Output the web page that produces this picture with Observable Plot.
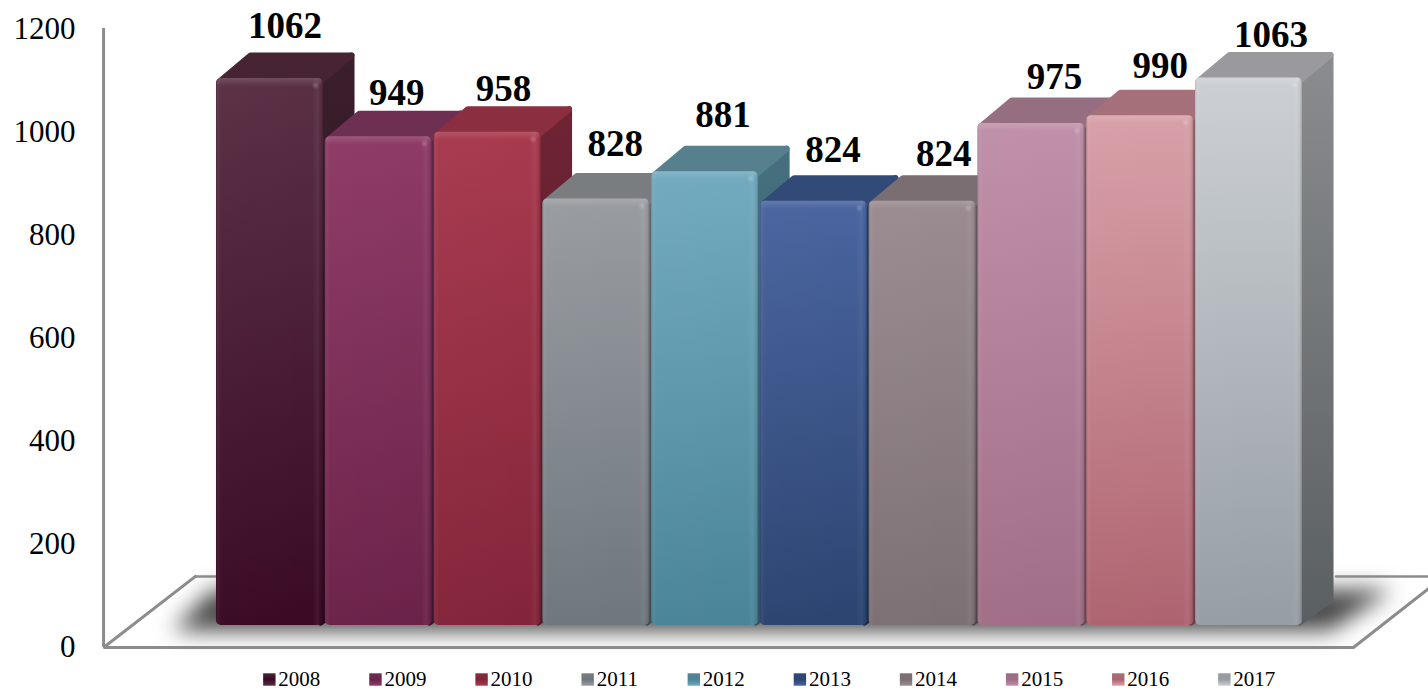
<!DOCTYPE html>
<html><head><meta charset="utf-8">
<script src="https://cdn.jsdelivr.net/npm/d3@7"></script>
<script src="https://cdn.jsdelivr.net/npm/@observablehq/plot@0.6"></script>
<style>html,body{margin:0;padding:0;background:#fff}svg{display:block;max-width:none}</style>
</head><body><div id="chart"></div>
<script>
const years = ["2008","2009","2010","2011","2012","2013","2014","2015","2016","2017"];
const values = [1062,949,958,828,881,824,824,975,990,1063];
const frontTop = ["#5a3045","#8e3b66","#a83a4e","#999ca1","#72aabf","#4a65a0","#9a8c90","#c090a8","#d8a0a8","#ccd0d4"];
const frontBottom = ["#3a0a24","#6b2249","#83243a","#6e777d","#4a8499","#2b4470","#7d7074","#a06e86","#ae6470","#969da4"];
const topFace = ["#472433","#6d2f52","#8a2e40","#7a7d80","#57808f","#324a78","#7a6e72","#966e82","#a5707a","#9a9a9e"];
const sideTop = ["#3b1f2c","#59264a","#6f2434","#6a6c6f","#47707f","#283c62","#655b5f","#7c5b6b","#885c65","#8a8c8e"];
const sideBottom = ["#24081a","#3d1430","#541a2a","#454b50","#2e5462","#1a2c4a","#4e4549","#62465a","#6e3c46","#5a5f62"];
const yTicks = [0,200,400,600,800,1000,1200];
const labelNudgeX = [-4,-1,-3,0,-1,0,2,4,1,3];
const labelNudgeY = [-4,4,5,-7,-9,-3,1,2,-1,5];

const pxX = 108.78, pxY = 0.515;            // pixels per data unit
const lift = -22;                           // bars stand back from the front edge of the floor
const depthX = 31 / pxX, depthY = 26 / pxY; // extrusion depth of each bar
const half = 0.492;
const cornerX = 3 / pxX, cornerY = 3 / pxY; // inset that the round stroke grows back
const floorL = -1.53, floorLB = -0.685, floorR = 9.96, floorRE = 10.65, floorB = 138;

const rows = years.map((year, i) => ({year, i, value: values[i]}));

function defs() {
  const d = d3.create("svg:defs");
  const grad = (id, stops, horizontal) => {
    const g = d.append("linearGradient").attr("id", id).attr("x1", 0).attr("y1", 0)
      .attr("x2", horizontal ? 1 : 0).attr("y2", horizontal ? 0 : 1);
    stops.forEach(([o, c, a]) => g.append("stop").attr("offset", o).attr("stop-color", c).attr("stop-opacity", a ?? 1));
  };
  rows.forEach(({i}) => {
    grad(`front${i}`, [[0, frontTop[i]], [1, frontBottom[i]]]);
    grad(`side${i}`, [[0, sideTop[i]], [1, sideBottom[i]]]);
    grad(`swatch${i}`, [[0, topFace[i]], [0.5, frontBottom[i]], [1, frontTop[i]]]);
  });
  grad("bevel", [[0, "#000", 0.14], [0.02, "#fff", 0.05], [0.05, "#fff", 0.01], [0.9, "#fff", 0], [0.95, "#fff", 0.05], [0.98, "#000", 0.03], [1, "#000", 0.22]], true);
  grad("topBevel", [[0, "#fff", 0.14], [1, "#fff", 0]]);
  return d.node();
}

const poly = (pts, o) => Plot.line(pts, {x: "x", y: "y", curve: "linear-closed", dy: lift, ...o});

const marks = [
  defs,
  // floor shadow
  poly([
    {x: -0.895, y: -10}, {x: 9.75, y: -10}, {x: 10.32, y: 70}, {x: -0.53, y: 70}
  ], {fill: "#484848", stroke: "none", imageFilter: "blur(11px)"}),
  // floor outline and axis wall
  Plot.ruleX([floorL], {y1: 0, y2: 1202, stroke: "#8c8c8c", strokeWidth: 3}),
  Plot.line([{x: floorLB, y: floorB}, {x: -0.46, y: floorB}], {x: "x", y: "y", stroke: "#8c8c8c", strokeWidth: 2.5}),
  Plot.line([{x: 9.8, y: floorB}, {x: floorRE, y: floorB}], {x: "x", y: "y", stroke: "#8c8c8c", strokeWidth: 2.5}),
  Plot.line([{x: floorLB, y: floorB}, {x: floorL, y: 0}, {x: floorR, y: 0}, {x: floorRE, y: 114}], {x: "x", y: "y", stroke: "#8c8c8c", strokeWidth: 3, strokeLinejoin: "miter"}),
  Plot.axisY({ticks: yTicks, tickSize: 0, tickPadding: 28, tickFormat: d => String(d), fontSize: 31, label: null, anchor: "left", color: "#000"}),
  ...rows.flatMap(({i, value}) => [
    poly([
      {x: i + half - cornerX, y: value}, {x: i + half + depthX - cornerX, y: value + depthY - cornerY},
      {x: i + half + depthX - cornerX, y: depthY}, {x: i + half - cornerX, y: cornerY}
    ], {fill: `url(#side${i})`, stroke: `url(#side${i})`, strokeWidth: 6, strokeLinejoin: "round"}),
    poly([
      {x: i - half + cornerX, y: value - cornerY}, {x: i - half + depthX + cornerX, y: value + depthY - cornerY},
      {x: i + half + depthX - cornerX, y: value + depthY - cornerY}, {x: i + half - cornerX, y: value - cornerY}
    ], {fill: topFace[i], stroke: topFace[i], strokeWidth: 6, strokeLinejoin: "round"}),
    Plot.rectY([{a: i - half, b: i + half, v: value}], {x1: "a", x2: "b", y: "v", dy: lift, rx: 5, fill: `url(#front${i})`}),
    Plot.rectY([{a: i - half, b: i + half, v: value}], {x1: "a", x2: "b", y: "v", dy: lift, rx: 5, fill: "url(#bevel)"}),
    Plot.rectY([{a: i - half + 0.01, b: i + half - 0.01, hi: value, lo: value - 16}], {x1: "a", x2: "b", y1: "lo", y2: "hi", dy: lift, rx: 4, fill: "url(#topBevel)"}),
    Plot.dot([{x: i + half - 8 / pxX, y: value - 7 / pxY}], {x: "x", y: "y", dy: lift, r: 2.5, fill: "#fff", fillOpacity: 0.2, stroke: "none", imageFilter: "blur(1px)"})
  ]),
  // value labels sit above every bar, on top of their neighbours
  ...rows.map(({i, value}) =>
    Plot.text([{x: i, y: value}], {x: "x", y: "y", text: () => String(value), dx: 19 + labelNudgeX[i], dy: lift - 48 + labelNudgeY[i], fontSize: 37, fontWeight: "bold", fill: "#000", lineAnchor: "middle"})
  ),
  // legend
  ...rows.flatMap(({i, year}) => [
    Plot.dot([{x: i * 0.9755 - 0.006}], {x: "x", frameAnchor: "bottom", dy: -11, symbol: "square", r: 7, fill: `url(#swatch${i})`, stroke: "none"}),
    Plot.text([{x: i * 0.9755 - 0.006}], {x: "x", frameAnchor: "bottom", text: () => year, dx: 9, dy: -11.5, lineAnchor: "middle", textAnchor: "start", fontSize: 21, fill: "#000"})
  ])
];

const chart = Plot.plot({
  width: 1428, height: 690,
  marginTop: 0, marginBottom: 0, marginLeft: 103, marginRight: 0,
  style: {fontFamily: "'Liberation Serif', serif", background: "#fff", overflow: "hidden"},
  x: {type: "linear", domain: [0, 9], range: [269.5, 1248.5], axis: null},
  y: {type: "linear", domain: [0, 1200], range: [647, 29], axis: null},
  marks
});
document.getElementById("chart").append(chart);
</script></body></html>
